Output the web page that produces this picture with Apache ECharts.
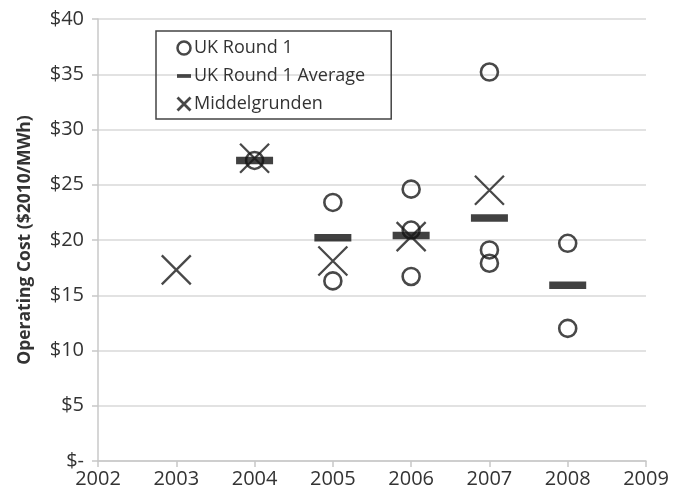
<!DOCTYPE html>
<html>
<head>
<meta charset="utf-8">
<script src="https://cdn.jsdelivr.net/npm/echarts@6/dist/echarts.min.js"></script>
<style>
  html, body { margin: 0; padding: 0; background: #fff; }
  #chart { width: 681px; height: 494px; }
</style>
</head>
<body>
<div id="chart"></div>
<script>
// UK Round 1 individual wind farms
const ukYears = [2004, 2005, 2005, 2006, 2006, 2006, 2007, 2007, 2007, 2008, 2008]
const ukCost = [27.2, 23.4, 16.3, 24.6, 20.9, 16.7, 35.2, 19.1, 17.9, 19.7, 12.0]
// UK Round 1 yearly average
const avgYears = [2004, 2005, 2006, 2007, 2008]
const avgCost = [27.2, 20.2, 20.4, 22.0, 15.9]
// Middelgrunden
const midYears = [2003, 2004, 2005, 2006, 2007]
const midCost = [17.3, 27.4, 18.1, 20.3, 24.5]

const pairs = (xs, ys) => xs.map((x, i) => [x, ys[i]])

const textColor = '#333333'
const markColor = '#1a1a1a'
const crossPath = 'path://M0,0L10,10M10,0L0,10'

const chart = echarts.init(document.getElementById('chart'))
chart.setOption({
  animation: false,
  grid: { left: 98, right: 35, top: 19, bottom: 33 },
  legend: {
    orient: 'vertical',
    left: 156,
    top: 31,
    padding: [7, 26, 5, 19],
    borderColor: '#444',
    borderWidth: 1.5,
    itemWidth: 14,
    itemHeight: 13,
    itemGap: 8,
    textStyle: { fontFamily: 'Open Sans', fontSize: 18, lineHeight: 20, color: textColor, padding: [0, 0, 0, -2] },
    data: [
      { name: 'UK Round 1', icon: 'circle', itemStyle: { color: '#fff', borderColor: markColor, borderWidth: 2.5 } },
      { name: 'UK Round 1 Average', icon: 'path://M0,0h15v4h-15z', itemStyle: { color: markColor, borderWidth: 0 } },
      { name: 'Middelgrunden', icon: crossPath, itemStyle: { color: 'none', borderColor: markColor, borderWidth: 2.8 } },
    ],
  },
  xAxis: {
    type: 'value',
    min: 2002,
    max: 2009,
    interval: 1,
    splitLine: { show: false },
    axisLine: { lineStyle: { color: '#c8c8c8', width: 1.5 } },
    axisTick: { show: true, length: 6, lineStyle: { color: '#c8c8c8', width: 1.5 } },
    axisLabel: { color: textColor, fontFamily: 'Open Sans', fontSize: 20, margin: 8, formatter: (v) => String(v) },
  },
  yAxis: {
    type: 'value',
    min: 0,
    max: 40,
    interval: 5,
    name: 'Operating Cost ($2010/MWh)',
    nameLocation: 'middle',
    nameGap: 64,
    nameTextStyle: { color: textColor, fontFamily: 'Open Sans', fontSize: 17.5, fontWeight: 'bold' },
    splitLine: { lineStyle: { color: '#d9d9d9', width: 1.5 } },
    axisLine: { show: true, lineStyle: { color: '#c8c8c8', width: 1.5 } },
    axisTick: { show: true, length: 6, lineStyle: { color: '#c8c8c8', width: 1.5 } },
    axisLabel: {
      color: textColor,
      fontFamily: 'Open Sans',
      fontSize: 20,
      margin: 14,
      formatter: (v) => (v === 0 ? '$-' : '$' + v),
    },
  },
  series: [
    {
      name: 'UK Round 1',
      type: 'scatter',
      symbol: 'circle',
      symbolSize: 17,
      itemStyle: { color: 'rgba(255,255,255,0)', borderColor: markColor, borderWidth: 2.6 },
      data: pairs(ukYears, ukCost),
      z: 2,
    },
    {
      name: 'UK Round 1 Average',
      type: 'scatter',
      symbol: 'rect',
      symbolSize: [37, 7.5],
      itemStyle: { color: '#111' },
      data: pairs(avgYears, avgCost),
      z: 3,
    },
    {
      name: 'Middelgrunden',
      type: 'scatter',
      symbol: crossPath,
      symbolSize: 29,
      itemStyle: { color: 'none', borderColor: markColor, borderWidth: 2.3 },
      data: pairs(midYears, midCost),
      z: 4,
    },
  ],
})
</script>
</body>
</html>
